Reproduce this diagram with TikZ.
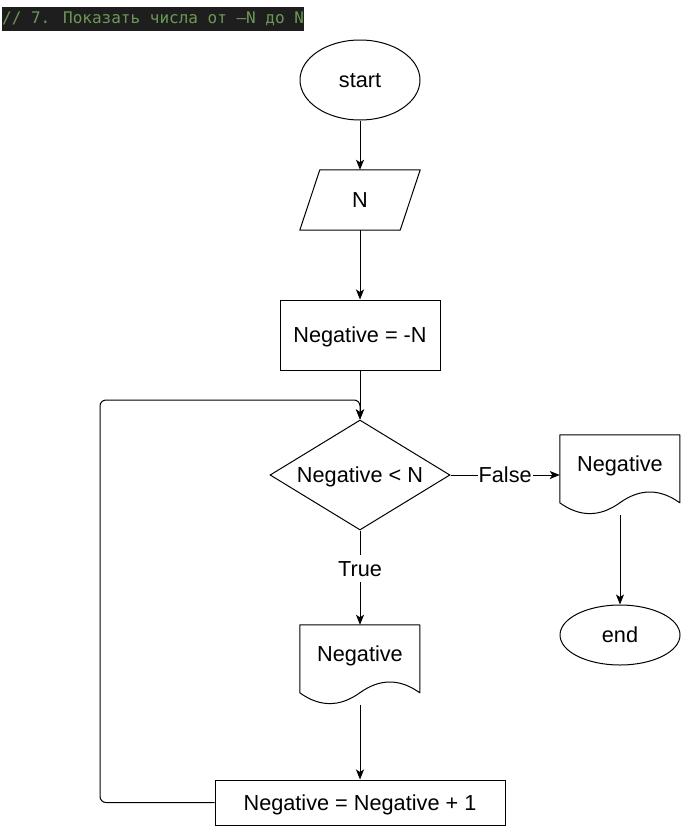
\documentclass[tikz,border=0pt]{standalone}
\usepackage{fontspec}
\setmainfont{Liberation Sans}
\newfontfamily\codefont{DejaVu Sans Mono}
\usetikzlibrary{shapes.geometric,arrows.meta,calc}
\definecolor{codebg}{HTML}{1E1E1E}
\definecolor{codegreen}{HTML}{6A9955}
\begin{document}
\begin{tikzpicture}[x=1pt,y=-1pt,
  every node/.style={font=\fontsize{21.7}{26}\selectfont, text height=18.9pt, text depth=3.7pt, inner sep=0pt},
  base/.style={draw, line width=1pt},
  term/.style={base, ellipse, minimum width=120pt},
  proc/.style={base, rectangle},
  decision/.style={base, diamond, aspect=1.636, minimum width=180pt, minimum height=110pt},
  docbox/.style={rectangle, minimum width=120pt, minimum height=80pt, text depth=26pt},
  docline/.style={base, line join=round},
  arr/.style={draw, line width=1pt, -{Stealth[length=10pt,width=8pt,inset=2.5pt]}},
  lbl/.style={fill=white, inner xsep=1pt, inner ysep=2pt},
  titlebar/.style={fill=codebg, text=codegreen, font=\codefont\fontsize{16}{19}\selectfont, text height=12pt, text depth=3.5pt, minimum height=24pt, inner xsep=0pt, anchor=north west}
]
\useasboundingbox (0,0) rectangle (682,827);

% title
\node[titlebar] (title) at (2,7) {// 7. Показать числа от —N до N};

% nodes
\node[term, minimum height=80pt] (start) at (360,80) {start};
\node[minimum width=100pt, minimum height=60pt] (inp) at (360,200) {N};
\draw[base, line join=round] ([xshift=10pt]inp.north west) -- ([xshift=10pt]inp.north east)
  -- ([xshift=-10pt]inp.south east) -- ([xshift=-10pt]inp.south west) -- cycle;
\node[proc, minimum width=160pt, minimum height=70pt] (neg) at (360,335) {Negative = -N};
\node[decision] (cond) at (360,475) {Negative < N};

\node[docbox] (outA) at (620,475) {Negative};
\begin{scope}[shift={(outA.north west)}]
  \draw[docline] (0,0) -- (120,0) -- (120,68) .. controls (100,53.6) and (80,53.6) .. (60,68)
    .. controls (40,82.4) and (20,82.4) .. (0,68) -- cycle;
\end{scope}
\node[term, minimum height=60pt] (stop) at (620,635) {end};

\node[docbox] (outB) at (360,665) {Negative};
\begin{scope}[shift={(outB.north west)}]
  \draw[docline] (0,0) -- (120,0) -- (120,68) .. controls (100,53.6) and (80,53.6) .. (60,68)
    .. controls (40,82.4) and (20,82.4) .. (0,68) -- cycle;
\end{scope}
\node[proc, minimum width=290pt, minimum height=45pt] (inc) at (360,802.5) {Negative = Negative + 1};

% connectors
\draw[arr] (start) -- (inp);
\draw[arr] (inp) -- (neg);
\draw[arr] (neg) -- (cond);
\draw[arr] (cond.east) -- node[lbl] {False} (outA.west);
\draw[arr] (outA.south) -- (stop.north);
\draw[arr] (cond.south) -- node[lbl, pos=0.405] {True} (outB.north);
\draw[arr] (outB.south) -- (inc.north);
\coordinate (loopA) at (100,400);
\draw[arr, rounded corners=6pt] (inc.west) -| (loopA) -| (cond.north);
\end{tikzpicture}
\end{document}
